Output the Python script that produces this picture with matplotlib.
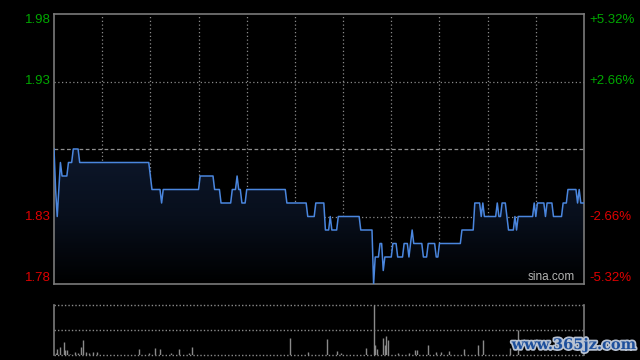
import numpy as np
import matplotlib
matplotlib.use("Agg")
import matplotlib.pyplot as plt
from matplotlib.colors import LinearSegmentedColormap
import matplotlib.transforms as mtransforms
import matplotlib.patheffects as pe

# ---- data ----
prev_close = 1.88
price_levels = [1.88, 1.85, 1.83, 1.85, 1.87, 1.86, 1.87, 1.88, 1.87, 1.86,
                1.85, 1.84, 1.85, 1.86, 1.85, 1.84, 1.85, 1.86, 1.85, 1.84,
                1.85, 1.84, 1.83, 1.84, 1.82, 1.83, 1.82, 1.83, 1.82, 1.78,
                1.80, 1.81, 1.79, 1.80, 1.81, 1.80, 1.81, 1.80, 1.81, 1.82,
                1.81, 1.80, 1.81, 1.80, 1.81, 1.82, 1.84, 1.83, 1.84, 1.83,
                1.84, 1.83, 1.84, 1.83, 1.82, 1.83, 1.82, 1.83, 1.84, 1.83,
                1.84, 1.83, 1.84, 1.83, 1.84, 1.85, 1.84, 1.85, 1.84]
price_runs = [1, 1, 1, 1, 1, 4, 3, 4, 44, 1,
              6, 1, 23, 9, 4, 7, 3, 1, 2, 3,
              25, 13, 5, 6, 3, 1, 4, 14, 8, 1,
              3, 2, 1, 5, 3, 4, 3, 1, 1, 1,
              6, 3, 5, 2, 14, 8, 4, 1, 1, 8,
              1, 2, 3, 1, 4, 1, 1, 10, 1, 1,
              5, 1, 4, 6, 3, 6, 1, 1, 3]

vol_minutes = [1, 2, 4, 6, 7, 8, 10, 13, 15, 17, 18, 20, 22, 24, 27, 53, 59, 63, 66, 73,
               78, 84, 86, 147, 158, 170, 176, 179, 194, 199, 200, 201, 205, 206, 207, 208,
               214, 221, 225, 226, 233, 238, 241, 246, 255, 264, 267, 284, 289]
vol_values = [40, 120, 160, 260, 100, 100, 20, 60, 40, 160, 300, 60, 40, 60, 60, 120, 40, 140,
              120, 40, 120, 40, 160, 340, 60, 320, 80, 40, 140, 1000, 200, 120, 340, 200, 380,
              300, 40, 40, 100, 100, 200, 60, 60, 80, 120, 200, 300, 140, 500]

left_labels = ["1.98", "1.93", "1.83", "1.78"]
right_labels = ["+5.32%", "+2.66%", "-2.66%", "-5.32%"]
label_prices = [1.98, 1.93, 1.83, 1.78]
label_colors = ["#00a800", "#00a800", "#e00000", "#e00000"]

prices = np.repeat(price_levels, price_runs)
minutes = np.arange(len(prices))
n_min = 330

# ---- figure ----
W, H = 640, 360
fig = plt.figure(figsize=(W / 100, H / 100), dpi=100, facecolor="black")

def ax_rect(l, t, r, b):
    return [l / W, 1 - b / H, (r - l) / W, (b - t) / H]

ax = fig.add_axes(ax_rect(54, 14, 584, 284), facecolor="black")
ax.set_xlim(0, n_min)
ax.set_ylim(1.78, 1.98)
ax.set_xticks([])
ax.set_yticks([])
for s in ax.spines.values():
    s.set_color("#7a7a7a")
    s.set_linewidth(1.2)

grid_col = "#8a8a8a"
for m in range(30, n_min, 30):
    ax.axvline(m, color=grid_col, lw=0.9, ls=(0, (1, 2)), zorder=1)
for p in [1.93, 1.83]:
    ax.axhline(p, color=grid_col, lw=0.9, ls=(0, (1, 2)), zorder=1)
ax.axhline(prev_close, color="#8f8f8f", lw=0.9, ls=(0, (3, 2)), zorder=1)

# gradient fill under the price line
poly = ax.fill_between(minutes, prices, 1.78, facecolor="none", edgecolor="none")
cmap = LinearSegmentedColormap.from_list("g", ["#000000", "#080f1c", "#0d172b"])
grad = np.linspace(0, 1, 256).reshape(-1, 1)
img = ax.imshow(grad, extent=[0, n_min, 1.78, 1.88], origin="lower", aspect="auto",
                cmap=cmap, zorder=2)
img.set_clip_path(poly.get_paths()[0], transform=ax.transData)
ax.set_xlim(0, n_min)
ax.set_ylim(1.78, 1.98)

ax.plot(minutes, prices, color="#4a86de", lw=1.1, zorder=3)

trans_l = mtransforms.blended_transform_factory(ax.transAxes, ax.transData)
fnt = dict(family="Liberation Sans", fontsize=9.5)
for lab, rl, p, c in zip(left_labels, right_labels, label_prices, label_colors):
    off = 0
    if p == 1.98:
        off = -0.0045
    elif p == 1.78:
        off = 0.0045
    ax.text(-0.006, p + off, lab, transform=trans_l, ha="right", va="center", color=c, **fnt)
    ax.text(1.011, p + off, rl, transform=trans_l, ha="left", va="center", color=c, **fnt)

ax.text(0.982, 0.004, "sina.com", transform=ax.transAxes, ha="right", va="bottom",
        color="#b4b4b4", family="Liberation Sans", fontsize=8.5)

# ---- volume panel ----
axv = fig.add_axes(ax_rect(54, 305, 584, 355), facecolor="black")
axv.set_xlim(0, n_min)
axv.set_ylim(0, 1000)
axv.set_xticks([])
axv.set_yticks([])
for k in ["top", "bottom"]:
    axv.spines[k].set_visible(False)
for k in ["left", "right"]:
    axv.spines[k].set_color("#7a7a7a")
    axv.spines[k].set_linewidth(1.2)
for yv in [1000, 500, 0]:
    axv.axhline(yv, color=grid_col, lw=1.0, ls=(0, (1, 1.5)), zorder=1, clip_on=False)
axv.vlines(vol_minutes, 0, vol_values, color="#8a8a8a", lw=1.0, zorder=2)

fig.text(574 / W, 1 - 345 / H, "www.365jz.com", ha="center", va="center",
         color="#1d4f9c", family="DejaVu Serif", fontweight="bold", fontsize=10.5,
         path_effects=[pe.withStroke(linewidth=2.5, foreground="#b8c2d2")])

fig.savefig("out.png", dpi=100, facecolor="black")
